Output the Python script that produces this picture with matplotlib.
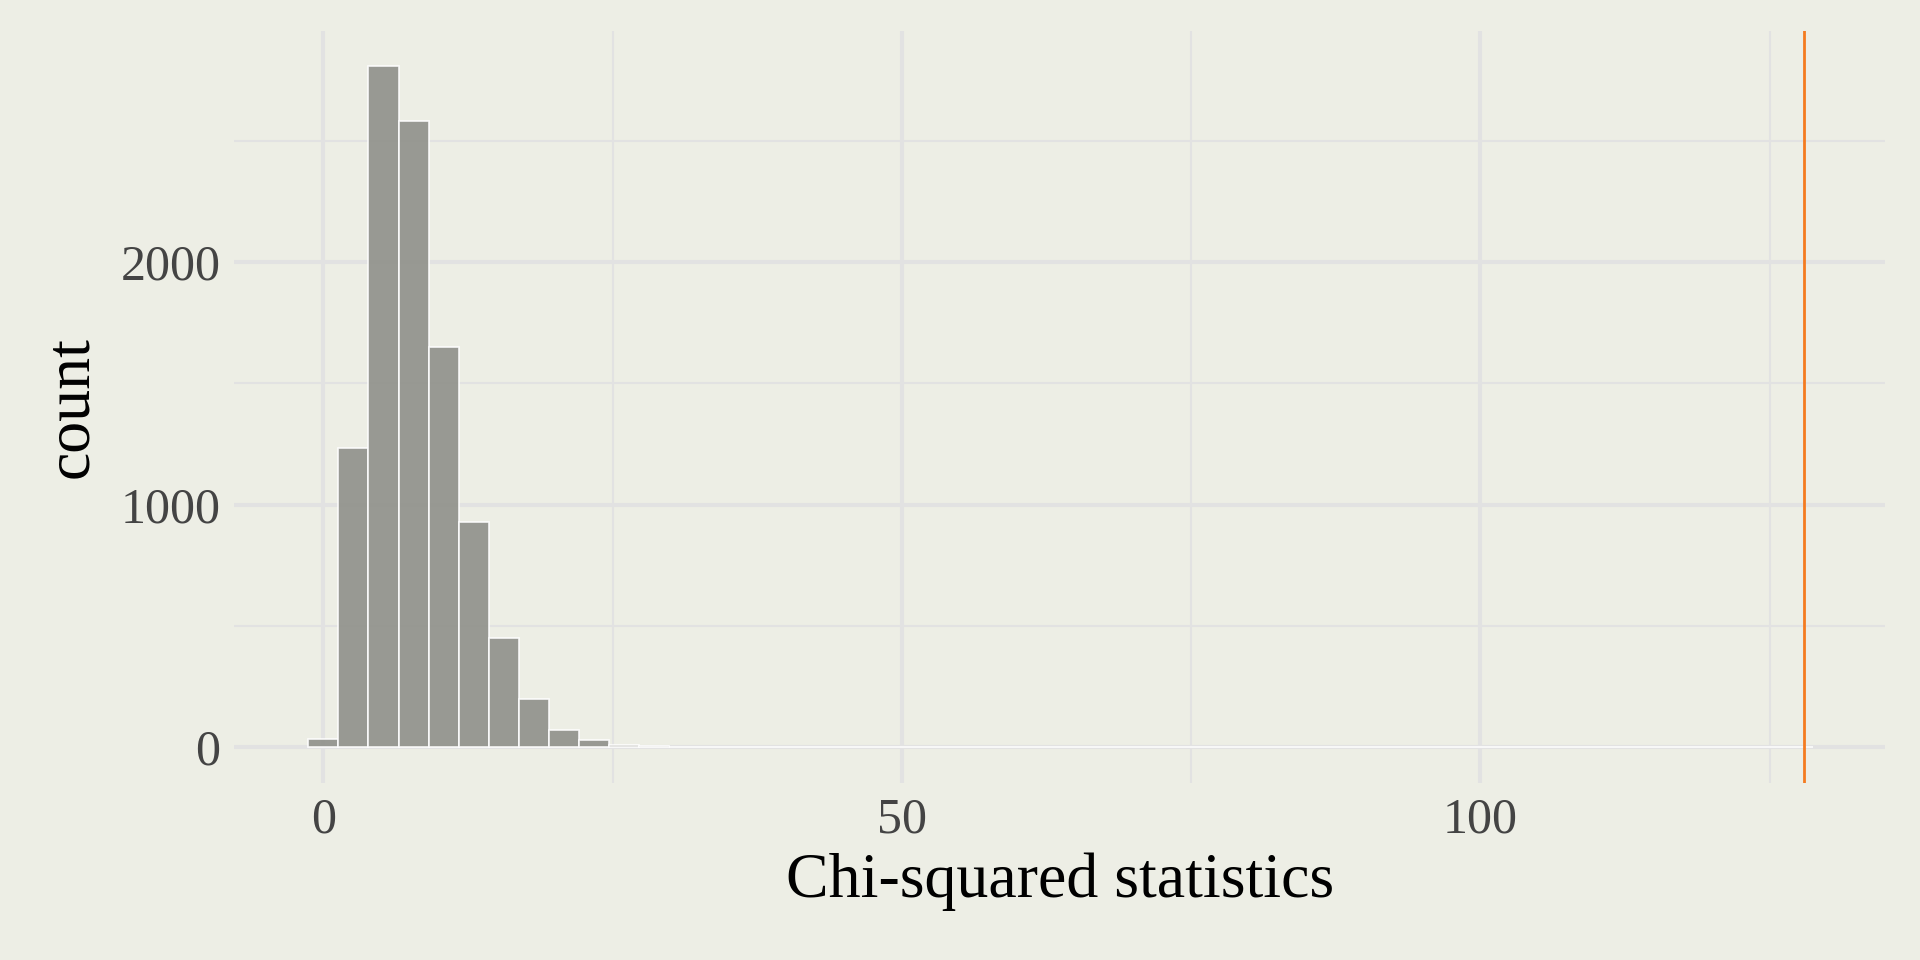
import matplotlib.pyplot as plt
from matplotlib.ticker import MultipleLocator

plt.rcParams['font.family'] = ['Liberation Serif', 'DejaVu Serif']

bin_width = 2.6
counts = [35, 1232, 2808, 2581, 1652, 929, 449, 197, 71, 30, 10, 3, 2] + [0] * 37
centers = [i * bin_width for i in range(len(counts))]
observed_stat = 128.0

bg = '#EDEEE5'
fig, ax = plt.subplots(figsize=(19.2, 9.6), dpi=100)
fig.patch.set_facecolor(bg)
ax.set_facecolor(bg)

ax.bar(centers, counts, width=bin_width, color='#8F908A', alpha=0.9,
       edgecolor='white', linewidth=1.2, zorder=3)
ax.axvline(observed_stat, color='#F47B20', linewidth=2, zorder=4)

ax.set_xlim(-7.7, 135)
ax.set_ylim(-150, 2955)
ax.xaxis.set_major_locator(MultipleLocator(50))
ax.xaxis.set_minor_locator(MultipleLocator(25))
ax.yaxis.set_major_locator(MultipleLocator(1000))
ax.yaxis.set_minor_locator(MultipleLocator(500))
ax.grid(which='major', color='#E2E2E2', linewidth=3, zorder=0)
ax.grid(which='minor', color='#E2E2E2', linewidth=1.5, zorder=0)
for s in ax.spines.values():
    s.set_visible(False)
ax.tick_params(which='both', length=0, labelsize=36, labelcolor='#444444', pad=10)

ax.set_xlabel('Chi-squared statistics', fontsize=46, labelpad=6)
ax.set_ylabel('count', fontsize=46, labelpad=14)

plt.subplots_adjust(left=0.122, right=0.982, top=0.968, bottom=0.184)
plt.savefig('out.png', dpi=100, facecolor=bg)
